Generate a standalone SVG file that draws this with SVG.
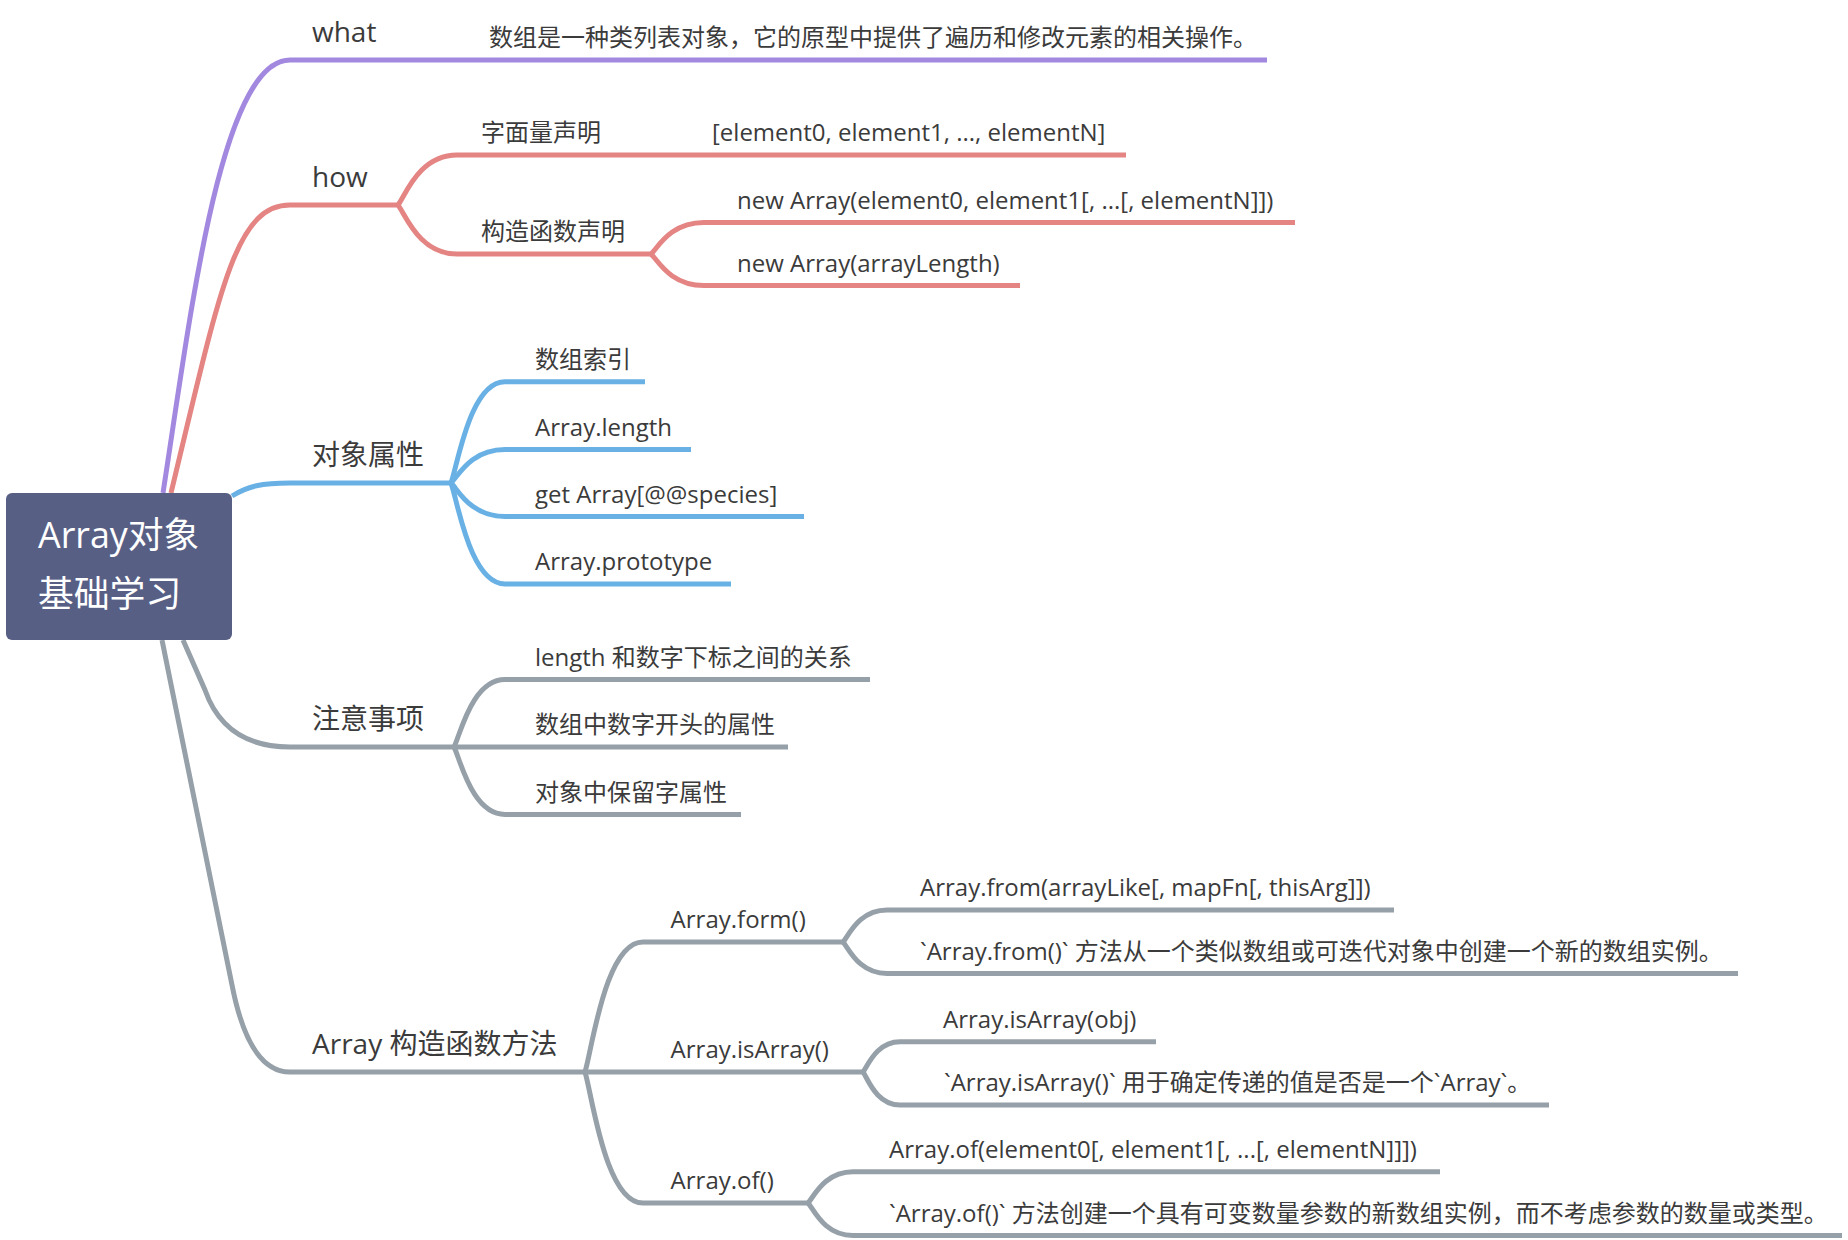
<svg xmlns="http://www.w3.org/2000/svg" width="1848" height="1240" viewBox="0 0 1848 1240">
<style>
text{font-family:"Open Sans","Noto Sans CJK SC",sans-serif;fill:#3b3b3b}
.l1{font-size:28px}
.l2{font-size:24px}
.rt{font-size:35.8px;fill:#ffffff}
.ln{fill:none;stroke-width:5;stroke-linecap:butt}
.pu{stroke:#A388E0}
.rd{stroke:#E48483}
.bl{stroke:#69B1E5}
.gy{stroke:#96A0A9}
</style>
<rect width="1848" height="1240" fill="#ffffff"/>
<g id="connectors">
<path class="ln pu" d="M163,493 C190,320 220,60 290,60"/>
<path class="ln rd" d="M171,493 C220,290 235,205 290,205"/>
<path class="ln bl" d="M232,496 C248,486 262,483 290,483"/>
<path class="ln gy" d="M183,640 L205,690 Q225,747 290,747"/>
<path class="ln gy" d="M162,640 L232,985 Q249,1072 290,1072"/>
<path class="ln rd" d="M398,205 C405,196.5 418.7,155 457,155"/>
<path class="ln rd" d="M398,205 C405,213.5 418.7,254 457,254"/>
<path class="ln rd" d="M651,254 C657.4,248.6 669.6,222.5 704,222.5"/>
<path class="ln rd" d="M651,254 C657.4,259.4 669.6,285.5 704,285.5"/>
<path class="ln bl" d="M451,483 C457.5,465.8 469.9,381.7 505,381.7"/>
<path class="ln bl" d="M451,483 C457.5,477.3 469.9,449.5 505,449.5"/>
<path class="ln bl" d="M451,483 C457.5,488.7 469.9,516.5 505,516.5"/>
<path class="ln bl" d="M451,483 C457.5,500.2 469.9,584 505,584"/>
<path class="ln gy" d="M454,747 C460.1,735.5 471.9,679.5 505,679.5"/>
<path class="ln gy" d="M454,747 C460.1,758.5 471.9,814.5 505,814.5"/>
<path class="ln gy" d="M585,1072 C592,1049.9 605.3,942 643,942"/>
<path class="ln gy" d="M585,1072 C592,1094.3 605.3,1203 643,1203"/>
<path class="ln gy" d="M843,942 C848.3,936.6 858.4,910 887,910"/>
<path class="ln gy" d="M843,942 C848.3,947.4 858.4,973.5 887,973.5"/>
<path class="ln gy" d="M863,1072 C867.4,1066.8 876,1041.7 900,1041.7"/>
<path class="ln gy" d="M863,1072 C867.4,1077.6 876,1105 900,1105"/>
<path class="ln gy" d="M808,1203 C813.4,1197.7 823.8,1171.7 853,1171.7"/>
<path class="ln gy" d="M808,1203 C813.4,1208.5 823.8,1235.5 853,1235.5"/>
</g>
<g id="root">
<rect x="6" y="493" width="226" height="147" rx="6" fill="#585F85"/>
<text class="rt" x="38" y="548">Array对象</text>
<text class="rt" x="38" y="607">基础学习</text>
</g>
<g id="n-what">
<path class="ln pu" d="M290,60 H393"/>
<text class="l1" x="312" y="41.5">what</text>
</g>
<g id="n-what-desc">
<path class="ln pu" d="M393,60 H1267"/>
<text class="l2" x="489" y="46">数组是一种类列表对象，它的原型中提供了遍历和修改元素的相关操作。</text>
</g>
<g id="n-how">
<path class="ln rd" d="M290,205 H398"/>
<text class="l1" x="312" y="186.5">how</text>
</g>
<g id="n-literal">
<path class="ln rd" d="M457,155 H690"/>
<text class="l2" x="481" y="141">字面量声明</text>
</g>
<g id="n-literal-ex">
<path class="ln rd" d="M690,155 H1126"/>
<text class="l2" x="712" y="141">[element0, element1, ..., elementN]</text>
</g>
<g id="n-ctor">
<path class="ln rd" d="M457,254 H651"/>
<text class="l2" x="481" y="240">构造函数声明</text>
</g>
<g id="n-ctor-1">
<path class="ln rd" d="M704,222.5 H1295"/>
<text class="l2" x="737" y="208.5">new Array(element0, element1[, ...[, elementN]])</text>
</g>
<g id="n-ctor-2">
<path class="ln rd" d="M704,285.5 H1020"/>
<text class="l2" x="737" y="271.5">new Array(arrayLength)</text>
</g>
<g id="n-props">
<path class="ln bl" d="M290,483 H451"/>
<text class="l1" x="312" y="464.5">对象属性</text>
</g>
<g id="n-props-1">
<path class="ln bl" d="M505,381.7 H645"/>
<text class="l2" x="535" y="367.7">数组索引</text>
</g>
<g id="n-props-2">
<path class="ln bl" d="M505,449.5 H691"/>
<text class="l2" x="535" y="435.5">Array.length</text>
</g>
<g id="n-props-3">
<path class="ln bl" d="M505,516.5 H804"/>
<text class="l2" x="535" y="502.5">get Array[@@species]</text>
</g>
<g id="n-props-4">
<path class="ln bl" d="M505,584 H731"/>
<text class="l2" x="535" y="570">Array.prototype</text>
</g>
<g id="n-notes">
<path class="ln gy" d="M290,747 H454"/>
<text class="l1" x="312" y="728.5">注意事项</text>
</g>
<g id="n-notes-1">
<path class="ln gy" d="M505,679.5 H870"/>
<text class="l2" x="535" y="665.5">length 和数字下标之间的关系</text>
</g>
<g id="n-notes-2">
<path class="ln gy" d="M454,747 H788"/>
<text class="l2" x="535" y="733">数组中数字开头的属性</text>
</g>
<g id="n-notes-3">
<path class="ln gy" d="M505,814.5 H741"/>
<text class="l2" x="535" y="800.5">对象中保留字属性</text>
</g>
<g id="n-methods">
<path class="ln gy" d="M290,1072 H585"/>
<text class="l1" x="312" y="1053.5">Array 构造函数方法</text>
</g>
<g id="n-form">
<path class="ln gy" d="M643,942 H843"/>
<text class="l2" x="670.6" y="928">Array.form()</text>
</g>
<g id="n-form-1">
<path class="ln gy" d="M887,910 H1394"/>
<text class="l2" x="920" y="896">Array.from(arrayLike[, mapFn[, thisArg]])</text>
</g>
<g id="n-form-2">
<path class="ln gy" d="M887,973.5 H1738"/>
<text class="l2" x="920" y="959.5">`Array.from()` 方法从一个类似数组或可迭代对象中创建一个新的数组实例。</text>
</g>
<g id="n-isarray">
<path class="ln gy" d="M585,1072 H863"/>
<text class="l2" x="670.6" y="1058">Array.isArray()</text>
</g>
<g id="n-isarray-1">
<path class="ln gy" d="M900,1041.7 H1156"/>
<text class="l2" x="943" y="1027.7">Array.isArray(obj)</text>
</g>
<g id="n-isarray-2">
<path class="ln gy" d="M900,1105 H1549"/>
<text class="l2" x="944" y="1091">`Array.isArray()` 用于确定传递的值是否是一个`Array`。</text>
</g>
<g id="n-of">
<path class="ln gy" d="M643,1203 H808"/>
<text class="l2" x="670.6" y="1189">Array.of()</text>
</g>
<g id="n-of-1">
<path class="ln gy" d="M853,1171.7 H1440"/>
<text class="l2" x="889" y="1157.7">Array.of(element0[, element1[, ...[, elementN]]])</text>
</g>
<g id="n-of-2">
<path class="ln gy" d="M853,1235.5 H1842"/>
<text class="l2" x="889" y="1221.5">`Array.of()` 方法创建一个具有可变数量参数的新数组实例，而不考虑参数的数量或类型。</text>
</g>
</svg>
